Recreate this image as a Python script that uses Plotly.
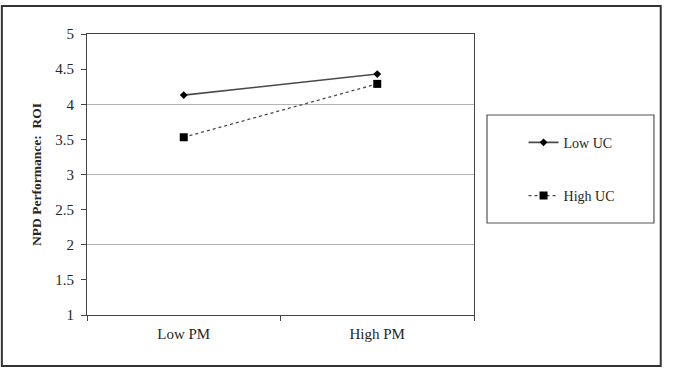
import plotly.graph_objects as go

categories = ["Low PM", "High PM"]
low_uc = [4.13, 4.43]
high_uc = [3.53, 4.29]
series_names = ["Low UC", "High UC"]
y_tick_vals = [1, 1.5, 2, 2.5, 3, 3.5, 4, 4.5, 5]
y_tick_text = ["1", "1.5", "2", "2.5", "3", "3.5", "4", "4.5", "5"]
grid_vals = [2, 3, 4]

FONT = "Liberation Serif"
TXT = "#262626"

fig = go.Figure()
fig.add_trace(go.Scatter(
    x=categories, y=low_uc, name=series_names[0], mode="lines+markers",
    line=dict(color="#4a4a4a", width=1.6, dash="solid"),
    marker=dict(symbol="diamond", size=6, color="#000000"),
    legendgroup="a",
))
fig.add_trace(go.Scatter(
    x=categories, y=high_uc, name=series_names[1], mode="lines+markers",
    line=dict(color="#4a4a4a", width=1.3, dash="dot"),
    marker=dict(symbol="square", size=8, color="#000000"),
    legendgroup="b",
))
# invisible companion trace so the labelled overlay axis is drawn
fig.add_trace(go.Scatter(
    x=categories, y=low_uc, yaxis="y2", mode="markers",
    marker=dict(opacity=0), showlegend=False, hoverinfo="skip",
))

# outer frame and legend box
fig.add_shape(type="rect", xref="paper", yref="paper",
              x0=-0.22, x1=1.4825, y0=-0.1815, y1=1.0996,
              line=dict(color="#333333", width=2), layer="below")
fig.add_shape(type="rect", xref="paper", yref="paper",
              x0=1.0336, x1=1.465, y0=0.3274, y1=0.7117,
              line=dict(color="#555555", width=1.2), layer="below")

fig.update_layout(
    width=681, height=370,
    margin=dict(l=87, r=207, t=34, b=55),
    paper_bgcolor="white", plot_bgcolor="white",
    font=dict(family=FONT, size=14, color=TXT),
    showlegend=True,
    legend=dict(x=1.128, y=0.67, xanchor="left", yanchor="top",
                traceorder="grouped", tracegroupgap=32,
                bgcolor="rgba(0,0,0,0)", borderwidth=0,
                font=dict(family=FONT, size=14, color=TXT)),
    xaxis=dict(type="category", range=[-0.5, 1.5], showgrid=False,
               showline=True, linecolor="#444444", linewidth=1.3, mirror=True,
               ticks="outside", tickson="boundaries", ticklen=5, tickcolor="#444444",
               ticklabelstandoff=5,
               tickfont=dict(family=FONT, size=15, color=TXT), zeroline=False),
    yaxis=dict(range=[1, 5], tickvals=grid_vals, showgrid=True, gridcolor="#b4b4b4",
               gridwidth=1, showticklabels=False, ticks="", zeroline=False,
               showline=True, linecolor="#444444", linewidth=1.3, mirror=True),
    yaxis2=dict(range=[1, 5], overlaying="y", side="left", anchor="x",
                tickvals=y_tick_vals, ticktext=y_tick_text, showgrid=False,
                ticks="outside", ticklen=5, tickcolor="#444444", zeroline=False,
                showline=False, ticklabelstandoff=4,
                tickfont=dict(family=FONT, size=15, color=TXT),
                title=dict(text="<b>NPD Performance:  ROI</b>", standoff=10,
                           font=dict(family=FONT, size=13.5, color=TXT))),
)

fig.write_html("out.html", config={"displayModeBar": False},
               post_script="document.body.style.margin='0';")
